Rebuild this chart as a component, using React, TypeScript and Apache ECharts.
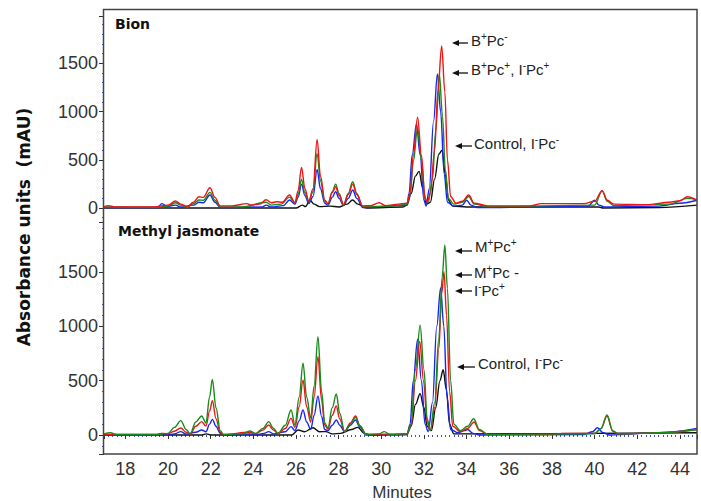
import React, { useEffect, useRef } from "react";
import * as echarts from "echarts";

// ---- axis ranges ----
const X_RANGE = [17, 44.8];
const TOP_Y_RANGE = [-145, 1990];
const BOT_Y_RANGE = [-175, 1960];
const Y_LABEL_MAX = 1500;

// ---- Bion panel (minutes, mAU) ----
const bionRed: [number, number][] = [
  [17, 15], [17.2, 25], [17.5, 12], [19.4, 12], [19.7, 22], [20.0, 30], [20.35, 72], [20.6, 40], [20.9, 15],
  [21.2, 60], [21.45, 117], [21.65, 110], [21.97, 210], [22.2, 110], [22.45, 22], [23.0, 22], [23.7, 45],
  [23.9, 30], [24.3, 40], [24.6, 85], [24.85, 55], [25.1, 65], [25.35, 60], [25.7, 135], [25.95, 55],
  [26.1, 180], [26.26, 421], [26.42, 200], [26.6, 70], [26.8, 200], [26.99, 710], [27.15, 330], [27.35, 80],
  [27.5, 45], [27.7, 160], [27.86, 220], [28.02, 130], [28.23, 35], [28.45, 140], [28.66, 248], [28.85, 140],
  [29.13, 22], [29.5, 25], [29.9, 55], [30.2, 25], [30.8, 40], [31.2, 50], [31.35, 150], [31.5, 550],
  [31.7, 940], [31.88, 550], [32.05, 100], [32.15, 60], [32.3, 150], [32.5, 600], [32.65, 1200], [32.83, 1680],
  [32.98, 1200], [33.1, 500], [33.25, 120], [33.5, 50], [33.8, 70], [34.1, 135], [34.35, 50], [35, 22],
  [37, 22], [37.5, 45], [39.5, 45], [40.0, 70], [40.35, 180], [40.6, 80], [40.9, 40], [42.5, 35], [43.5, 60],
  [44.0, 75], [44.35, 117], [44.8, 80],
];
const bionGreen: [number, number][] = [
  [17, 10], [19.5, 8], [20.0, 20], [20.35, 55], [20.6, 30], [20.9, 10], [21.2, 45], [21.45, 83], [21.65, 80],
  [21.97, 162], [22.2, 80], [22.45, 12], [23.5, 12], [24.6, 60], [24.85, 30], [25.3, 40], [25.7, 113],
  [25.95, 50], [26.1, 140], [26.26, 297], [26.42, 160], [26.6, 65], [26.8, 170], [26.99, 566], [27.15, 280],
  [27.35, 70], [27.5, 40], [27.7, 170], [27.86, 248], [28.02, 150], [28.23, 30], [28.45, 150], [28.66, 272],
  [28.85, 150], [29.13, 14], [30.5, 20], [31.2, 40], [31.35, 140], [31.5, 480], [31.7, 830], [31.88, 500],
  [32.05, 90], [32.2, 60], [32.4, 300], [32.55, 800], [32.72, 1390], [32.87, 950], [33.0, 400], [33.15, 100],
  [33.4, 40], [33.8, 60], [34.1, 120], [34.35, 40], [35, 15], [40.0, 30], [40.35, 175], [40.6, 70],
  [40.9, 25], [43.5, 40], [44.35, 100], [44.8, 85],
];
const bionBlue: [number, number][] = [
  [17, 5], [19.5, 5], [19.72, 45], [19.95, 15], [20.35, 30], [20.6, 10], [21.2, 30], [21.45, 60], [21.65, 55],
  [21.97, 135], [22.2, 60], [22.45, 5], [24.4, 10], [24.6, 30], [24.85, 10], [25.4, 25], [25.7, 83],
  [25.95, 40], [26.1, 110], [26.26, 248], [26.42, 130], [26.6, 45], [26.8, 120], [26.99, 400], [27.15, 200],
  [27.35, 50], [27.5, 30], [27.7, 110], [27.86, 169], [28.02, 100], [28.23, 25], [28.45, 100], [28.66, 186],
  [28.85, 100], [29.13, 5], [31.2, 30], [31.3, 150], [31.45, 550], [31.65, 870], [31.82, 550], [32.0, 80],
  [32.1, 20], [32.25, 200], [32.45, 900], [32.63, 1390], [32.78, 1000], [32.95, 350], [33.1, 60], [33.4, 20],
  [33.8, 30], [34.0, 80], [34.2, 30], [34.5, 5], [39.7, 20], [40.0, 80], [40.2, 30], [40.5, 10], [43, 20],
  [44.0, 50], [44.8, 80],
];
const bionControl: [number, number][] = [
  [17, 0], [26.0, 0], [26.3, 30], [26.45, 15], [26.65, 83], [26.85, 40], [27.1, 14], [27.6, 20], [28.0, 10],
  [28.4, 40], [28.65, 83], [28.9, 40], [29.3, 0], [31.0, 10], [31.2, 30], [31.4, 150], [31.6, 330],
  [31.77, 380], [31.95, 200], [32.12, 40], [32.3, 60], [32.5, 300], [32.7, 560], [32.85, 600], [33.0, 350],
  [33.15, 80], [33.35, 20], [34, 10], [40.2, 10], [40.4, 0], [43, 5], [44.8, 30],
];

// ---- Methyl jasmonate panel (minutes, mAU) ----
const mjGreen: [number, number][] = [
  [17, 10], [17.3, 20], [17.6, 5], [19.5, 5], [20.0, 15], [20.3, 70], [20.6, 132], [20.85, 50], [21.04, 10],
  [21.3, 120], [21.58, 175], [21.78, 110], [21.95, 350], [22.08, 512], [22.25, 250], [22.45, 40], [22.6, 5],
  [23.5, 10], [23.83, 37], [24.1, 15], [24.45, 60], [24.72, 123], [24.95, 60], [25.15, 15], [25.5, 90],
  [25.77, 230], [25.95, 92], [26.15, 350], [26.33, 660], [26.5, 350], [26.69, 156], [26.85, 450], [27.03, 905],
  [27.2, 400], [27.35, 110], [27.5, 64], [27.7, 250], [27.89, 377], [28.05, 200], [28.28, 31], [28.55, 100],
  [28.79, 163], [29.0, 80], [29.29, 5], [29.9, 10], [30.14, 31], [30.4, 5], [31.2, 10], [31.4, 100],
  [31.6, 600], [31.82, 1010], [32.0, 600], [32.15, 150], [32.3, 40], [32.5, 300], [32.7, 900], [32.85, 1450],
  [32.98, 1748], [33.1, 1350], [33.25, 500], [33.4, 100], [33.7, 40], [34.05, 80], [34.33, 150], [34.6, 50],
  [35.0, 5], [40.0, 10], [40.3, 60], [40.58, 184], [40.85, 40], [41.1, 10], [43, 20], [44.8, 50],
];
const mjRed: [number, number][] = [
  [17, 5], [19.4, 5], [19.75, 15], [20.0, 10], [20.3, 35], [20.6, 64], [20.85, 25], [21.04, 8], [21.3, 80],
  [21.58, 123], [21.78, 83], [21.95, 220], [22.08, 316], [22.25, 150], [22.45, 25], [22.6, 5], [23.83, 25],
  [24.1, 10], [24.45, 45], [24.72, 92], [24.95, 45], [25.15, 12], [25.5, 60], [25.77, 153], [25.95, 70],
  [26.15, 260], [26.33, 506], [26.5, 260], [26.69, 120], [26.85, 350], [27.03, 720], [27.2, 320], [27.35, 90],
  [27.5, 55], [27.7, 180], [27.89, 267], [28.05, 150], [28.28, 30], [28.55, 110], [28.79, 175], [29.0, 85],
  [29.29, 5], [31.2, 10], [31.4, 90], [31.6, 500], [31.8, 860], [31.98, 500], [32.15, 120], [32.3, 40],
  [32.5, 250], [32.7, 800], [32.83, 1300], [32.94, 1502], [33.06, 1100], [33.2, 400], [33.35, 80], [33.7, 30],
  [34.05, 60], [34.35, 120], [34.6, 40], [35, 5], [38, 5], [38.5, 15], [40.0, 15], [40.3, 60], [40.58, 175],
  [40.85, 35], [41.1, 10], [43, 20], [44.8, 50],
];
const mjBlue: [number, number][] = [
  [17, 0], [19.5, 0], [19.7, 15], [19.9, 0], [20.3, 10], [20.6, 31], [20.85, 8], [21.3, 25], [21.58, 46],
  [21.78, 30], [21.95, 100], [22.08, 144], [22.25, 80], [22.45, 15], [22.6, 0], [23.83, 10], [24.1, 0],
  [24.5, 15], [24.72, 31], [24.95, 10], [25.5, 30], [25.77, 77], [25.95, 40], [26.15, 130], [26.33, 230],
  [26.5, 120], [26.69, 50], [26.85, 180], [27.03, 359], [27.2, 170], [27.35, 50], [27.5, 40], [27.7, 90],
  [27.89, 138], [28.05, 90], [28.28, 31], [28.55, 90], [28.79, 138], [29.0, 70], [29.29, 0], [31.2, 5],
  [31.35, 100], [31.5, 500], [31.7, 880], [31.88, 500], [32.05, 100], [32.2, 30], [32.4, 300], [32.6, 1000],
  [32.78, 1352], [32.93, 1000], [33.08, 350], [33.25, 50], [33.6, 20], [33.9, 40], [34.05, 50], [34.3, 15],
  [34.6, 0], [39.5, 5], [39.9, 30], [40.13, 67], [40.4, 20], [40.7, 0], [43, 20], [44.8, 60],
];
const mjControl: [number, number][] = [
  [17, 0], [21.6, 0], [21.8, 10], [22.0, 0], [25.8, 0], [26.1, 46], [26.4, 30], [26.8, 67], [27.1, 30],
  [27.4, 31], [27.7, 10], [28.1, 15], [28.6, 50], [28.9, 70], [29.2, 15], [29.5, 0], [31.2, 5], [31.4, 80],
  [31.6, 280], [31.82, 380], [32.0, 250], [32.15, 80], [32.35, 40], [32.55, 250], [32.75, 500], [32.9, 600],
  [33.05, 420], [33.2, 100], [33.4, 10], [44.8, 20],
];

const F = "'Liberation Sans', Arial, sans-serif";
const FB = "'DejaVu Sans', sans-serif";
const COLORS = { red: "#f01414", green: "#1a8a1a", blue: "#1428f0", black: "#111111" };

const RICH = {
  n: { fontSize: 15, fontFamily: F, fill: "#222", lineHeight: 18 },
  s: { fontSize: 10, fontFamily: F, fill: "#222", verticalAlign: "top" },
};

function annotation(tx: number, ty: number, ax1: number, ax2: number, ay: number, text: string) {
  return [
    { type: "line", shape: { x1: ax1 + 5, y1: ay, x2: ax2, y2: ay }, style: { stroke: "#111", lineWidth: 1.3 }, z: 20 },
    { type: "polygon", shape: { points: [[ax1, ay], [ax1 + 7, ay - 3], [ax1 + 7, ay + 3]] }, style: { fill: "#111" }, z: 20 },
    { type: "text", x: tx, y: ty, style: { text, rich: RICH, align: "left", verticalAlign: "middle" }, z: 20 },
  ];
}

function lineSeries(data: [number, number][], color: string, idx: number) {
  return {
    type: "line",
    data,
    xAxisIndex: idx,
    yAxisIndex: idx,
    showSymbol: false,
    smooth: 0.35,
    smoothMonotone: "x",
    lineStyle: { color, width: 1.4 },
    itemStyle: { color },
    z: 3,
  };
}

function yAxis(range: number[], idx: number) {
  return {
    type: "value",
    gridIndex: idx,
    min: range[0],
    max: range[1],
    splitNumber: 5,
    axisLine: { show: false },
    splitLine: { show: false },
    axisTick: { show: true, length: 5, lineStyle: { color: "#333", width: 1 } },
    minorTick: { show: true, splitNumber: 5, length: 2, lineStyle: { color: "#3a4fd0", width: 1 } },
    axisLabel: {
      showMinLabel: false,
      showMaxLabel: false,
      fontSize: 18,
      fontFamily: F,
      color: "#333",
      margin: 6,
      formatter: (v: number) => (v >= 0 && v <= Y_LABEL_MAX && v % 500 === 0 ? String(v) : ""),
    },
  };
}

function xAxis(idx: number, show: boolean) {
  return {
    type: "value",
    gridIndex: idx,
    min: X_RANGE[0],
    max: X_RANGE[1],
    splitNumber: 14,
    show,
    axisLine: { show: false },
    splitLine: { show: false },
    axisTick: { show: true, length: 4, lineStyle: { color: "#333", width: 1 } },
    minorTick: { show: true, splitNumber: 10, length: 2, lineStyle: { color: "#3a4fd0", width: 1 } },
    axisLabel: {
      showMinLabel: false,
      showMaxLabel: false,
      fontSize: 18,
      fontFamily: F,
      color: "#333",
      margin: 6,
      formatter: (v: number) => (v % 2 === 0 ? String(v) : ""),
    },
  };
}

export default function App() {
  const ref = useRef<HTMLDivElement>(null);
  useEffect(() => {
    if (!ref.current) return;
    const chart = echarts.init(ref.current, null, { renderer: "svg" });
    const option = {
      animation: false,
      backgroundColor: "#ffffff",
      grid: [
        { left: 104, top: 16, width: 593, height: 206 },
        { left: 104, top: 222, width: 593, height: 232 },
      ],
      xAxis: [xAxis(0, false), xAxis(1, true)],
      yAxis: [yAxis(TOP_Y_RANGE, 0), yAxis(BOT_Y_RANGE, 1)],
      series: [
        lineSeries(bionControl, COLORS.black, 0),
        lineSeries(bionBlue, COLORS.blue, 0),
        lineSeries(bionGreen, COLORS.green, 0),
        lineSeries(bionRed, COLORS.red, 0),
        lineSeries(mjControl, COLORS.black, 1),
        lineSeries(mjBlue, COLORS.blue, 1),
        lineSeries(mjRed, COLORS.red, 1),
        lineSeries(mjGreen, COLORS.green, 1),
      ],
      graphic: {
        elements: [
          {
            type: "rect",
            shape: { x: 103.5, y: 9.5, width: 593.5, height: 444.5 },
            style: { fill: "none", stroke: "#444", lineWidth: 1.5 },
            z: 10,
          },
          {
            type: "text", x: 115, y: 24,
            style: { text: "Bion", fontSize: 14, fontWeight: "bold", fontFamily: FB, fill: "#111", verticalAlign: "middle" },
            z: 20,
          },
          {
            type: "text", x: 118, y: 231,
            style: { text: "Methyl jasmonate", fontSize: 14, fontWeight: "bold", fontFamily: FB, fill: "#111", verticalAlign: "middle" },
            z: 20,
          },
          {
            type: "text", x: 24, y: 227, rotation: Math.PI / 2,
            style: {
              text: "Absorbance units  (mAU)", fontSize: 17, fontWeight: "bold", fontFamily: FB, fill: "#111",
              align: "center", verticalAlign: "middle",
            },
            z: 20,
          },
          {
            type: "text", x: 402, y: 492,
            style: { text: "Minutes", fontSize: 17, fontFamily: F, fill: "#333", align: "center", verticalAlign: "middle" },
            z: 20,
          },
          ...annotation(471, 40, 452, 468, 43, "{n|B}{s|+}{n|Pc}{s|-}"),
          ...annotation(471, 69, 452, 468, 73, "{n|B}{s|+}{n|Pc}{s|+}{n|, I}{s|-}{n|Pc}{s|+}"),
          ...annotation(474, 143, 455, 472, 146, "{n|Control, I}{s|-}{n|Pc}{s|-}"),
          ...annotation(475, 246, 455, 472, 251, "{n|M}{s|+}{n|Pc}{s|+}"),
          ...annotation(474, 272, 455, 472, 275, "{n|M}{s|+}{n|Pc -}"),
          ...annotation(474, 290, 455, 472, 291, "{n|I}{s|-}{n|Pc}{s|+}"),
          ...annotation(478, 363, 457, 475, 367, "{n|Control, I}{s|-}{n|Pc}{s|-}"),
        ],
      },
    };
    chart.setOption(option as any);
    return () => chart.dispose();
  }, []);
  return (
    <div
      ref={ref}
      style={{ position: "fixed", left: 0, top: 0, width: 701, height: 501, background: "#fff" }}
    />
  );
}
